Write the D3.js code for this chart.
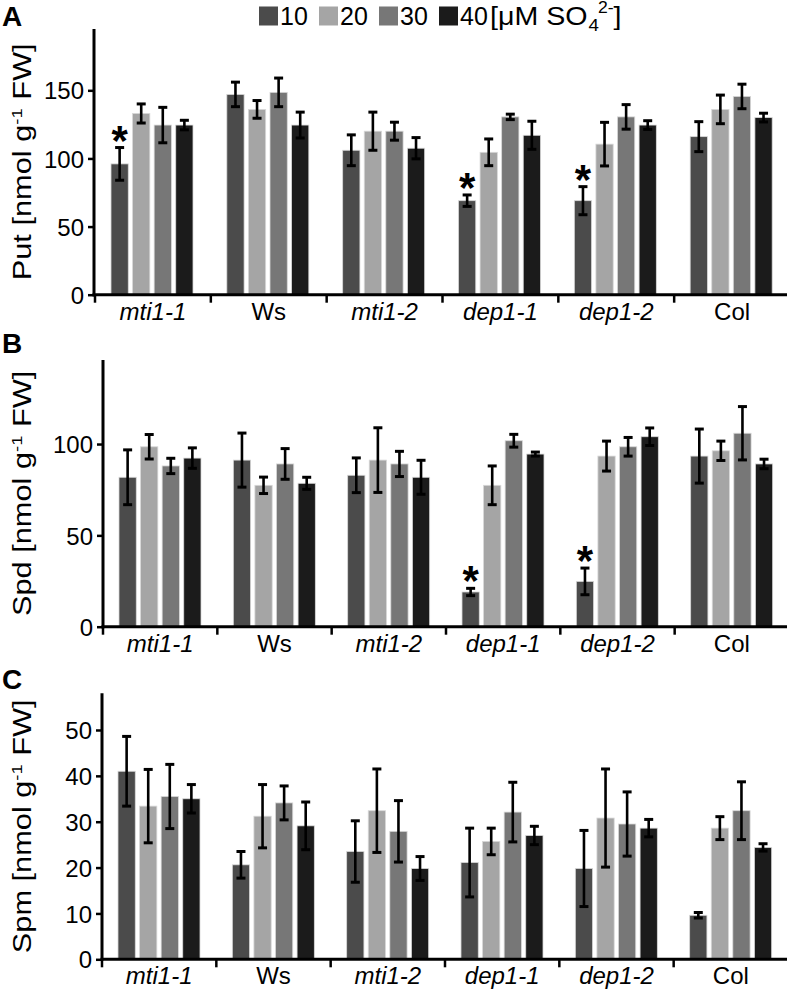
<!DOCTYPE html>
<html>
<head>
<meta charset="utf-8">
<script src="https://cdn.jsdelivr.net/npm/d3@7"></script>
<style>
  html, body { margin: 0; padding: 0; background: #fff; }
  svg { display: block; font-family: "Liberation Sans", Arial, sans-serif; }
</style>
</head>
<body>
<svg id="chart" width="789" height="994"></svg>
<script>
// ---------------- DATA ----------------
const genotypes = ["mti1-1", "Ws", "mti1-2", "dep1-1", "dep1-2", "Col"];
const italicGenotypes = ["mti1-1", "mti1-2", "dep1-1", "dep1-2"];
const concentrations = ["10", "20", "30", "40"];

// Put [nmol g-1 FW], rows = genotypes, cols = concentrations
const putMeans = [
  [96, 133, 124.5, 124.5],
  [147, 136, 148.5, 124.5],
  [106, 120, 120, 107.5],
  [69, 104.5, 130.5, 117],
  [69, 110.5, 130.5, 124.5],
  [116, 136, 145.5, 130]
];
const putErrors = [
  [12, 7, 13, 3.5],
  [9, 6.5, 10.5, 9.5],
  [11.3, 14, 6.6, 7.8],
  [4.2, 9.8, 2, 10.3],
  [10.3, 16, 9, 3.2],
  [11, 10.5, 9, 3.2]
];
const putStars = [["mti1-1", "10"], ["dep1-1", "10"], ["dep1-2", "10"]];
const putTicks = [0, 50, 100, 150];

// Spd
const spdMeans = [
  [81.8, 98.5, 88, 92.3],
  [91.2, 77.4, 89.1, 78.5],
  [82.9, 91.2, 89.1, 81.8],
  [19, 77.4, 101.8, 94.5],
  [24.8, 93.4, 98.5, 104],
  [93.4, 96.3, 105.9, 89.1]
];
const spdErrors = [
  [15, 6.7, 4.2, 5.6],
  [14.8, 4.5, 8.4, 3.3],
  [9.5, 17.7, 6.9, 9.3],
  [2, 10.6, 3.5, 1.1],
  [7.3, 8.2, 5.1, 4.8],
  [14.8, 5.3, 14.6, 2.6]
];
const spdStars = [["dep1-1", "10"], ["dep1-2", "10"]];
const spdTicks = [0, 50, 100];

// Spm
const spmMeans = [
  [41, 33.4, 35.5, 35],
  [20.6, 31.2, 34.1, 29.1],
  [23.5, 32.4, 27.9, 19.8],
  [21.1, 25.7, 32.1, 27],
  [19.8, 30.8, 29.5, 28.6],
  [9.6, 28.6, 32.4, 24.4]
];
const spmErrors = [
  [7.6, 8, 7, 3.1],
  [2.9, 6.9, 3.7, 5.2],
  [6.7, 9.1, 6.7, 2.6],
  [7.5, 2.9, 6.5, 2],
  [8.3, 10.7, 7, 1.9],
  [0.6, 2.5, 6.3, 0.8]
];
const spmStars = [];
const spmTicks = [0, 10, 20, 30, 40, 50];

// ---------------- STYLE / LAYOUT ----------------
const colors = { "10": "#4b4b4b", "20": "#a5a5a5", "30": "#777777", "40": "#1b1b1b" };
const svg = d3.select("#chart");

const panels = [
  { letter: "A", label: "Put", means: putMeans, errors: putErrors, stars: putStars, ticks: putTicks,
    yMax: 195, top: 29, zero: 294.7, axisX: 94, x0: 95, x1: 790, letterY: 26 },
  { letter: "B", label: "Spd", means: spdMeans, errors: spdErrors, stars: spdStars, ticks: spdTicks,
    yMax: 146, top: 360, zero: 626.7, axisX: 103, x0: 103, x1: 789, letterY: 353 },
  { letter: "C", label: "Spm", means: spmMeans, errors: spmErrors, stars: spmStars, ticks: spmTicks,
    yMax: 58, top: 693.3, zero: 959.3, axisX: 102, x0: 102, x1: 788, letterY: 689 }
];

panels.forEach(p => {
  const g = svg.append("g");
  const x = d3.scaleBand().domain(genotypes).range([p.x0, p.x1]).padding(0);
  const xi = d3.scaleBand().domain(concentrations).range([16, 98]).paddingInner(0.2);
  const y = d3.scaleLinear().domain([0, p.yMax]).range([p.zero, p.top]);

  const rows = [];
  genotypes.forEach((gn, i) => concentrations.forEach((c, j) => {
    rows.push({ g: gn, c: c, v: p.means[i][j], e: p.errors[i][j] });
  }));

  // bars
  g.selectAll("rect.bar").data(rows).join("rect")
    .attr("class", "bar")
    .attr("x", d => x(d.g) + xi(d.c))
    .attr("y", d => y(d.v))
    .attr("width", xi.bandwidth())
    .attr("height", d => y(0) - y(d.v))
    .attr("fill", d => colors[d.c])
    .attr("stroke", "#d8d8d8")
    .attr("stroke-width", 0.8);

  // error bars
  const cx = d => x(d.g) + xi(d.c) + xi.bandwidth() / 2;
  const eg = g.append("g").attr("stroke", "#000").attr("stroke-width", 2.6);
  eg.selectAll("line.v").data(rows).join("line")
    .attr("x1", cx).attr("x2", cx)
    .attr("y1", d => y(d.v + d.e)).attr("y2", d => y(d.v - d.e));
  eg.selectAll("line.t").data(rows).join("line")
    .attr("x1", d => cx(d) - 4.5).attr("x2", d => cx(d) + 4.5)
    .attr("y1", d => y(d.v + d.e)).attr("y2", d => y(d.v + d.e))
    .attr("stroke-width", 3);
  eg.selectAll("line.b").data(rows).join("line")
    .attr("x1", d => cx(d) - 4.5).attr("x2", d => cx(d) + 4.5)
    .attr("y1", d => y(d.v - d.e)).attr("y2", d => y(d.v - d.e))
    .attr("stroke-width", 3);

  // stars
  const starRows = p.stars.map(([gn, c]) => rows.find(r => r.g === gn && r.c === c));
  g.selectAll("text.star").data(starRows).join("text")
    .attr("x", cx)
    .attr("y", d => y(d.v + d.e) + 7)
    .attr("text-anchor", "middle")
    .attr("font-size", 42)
    .attr("font-weight", "bold")
    .text("*");

  // y axis
  const yAxis = d3.axisLeft(y).tickValues(p.ticks).tickSize(6).tickPadding(4).tickFormat(d3.format("d"));
  const ya = g.append("g").attr("transform", `translate(${p.axisX},0)`).call(yAxis);
  ya.select(".domain").remove();
  ya.selectAll(".tick line").attr("stroke", "#000").attr("stroke-width", 2.5);
  ya.selectAll(".tick text").attr("font-size", 24).attr("font-family", "Liberation Sans, Arial, sans-serif").attr("fill", "#000").attr("dy", "0.36em");
  g.append("line").attr("x1", p.axisX).attr("x2", p.axisX)
    .attr("y1", p.top).attr("y2", p.zero + 1.5)
    .attr("stroke", "#000").attr("stroke-width", 3);

  // x axis
  g.append("line").attr("x1", p.axisX - 1.5).attr("x2", Math.min(p.x1, 787))
    .attr("y1", p.zero).attr("y2", p.zero)
    .attr("stroke", "#000").attr("stroke-width", 3);
  const bounds = genotypes.map(gn => x(gn));
  g.selectAll("line.cat").data(bounds).join("line")
    .attr("x1", d => d).attr("x2", d => d)
    .attr("y1", p.zero).attr("y2", p.zero + 8)
    .attr("stroke", "#000").attr("stroke-width", 2.5);
  g.selectAll("text.cat").data(genotypes).join("text")
    .attr("x", d => x(d) + x.bandwidth() / 2)
    .attr("y", p.zero + 25)
    .attr("text-anchor", "middle")
    .attr("font-size", 24)
    .attr("font-style", d => italicGenotypes.includes(d) ? "italic" : "normal")
    .text(d => d);

  // y label
  const ly = (p.top + p.zero) / 2;
  const lab = g.append("text")
    .attr("transform", `translate(31,${ly}) rotate(-90) scale(1.23,1)`)
    .attr("text-anchor", "middle")
    .attr("font-size", 25);
  lab.append("tspan").text(p.label + " [nmol g");
  lab.append("tspan").attr("font-size", 15).attr("dy", -9).text("-1");
  lab.append("tspan").attr("dy", 9).text(" FW]");

  // panel letter
  g.append("text").attr("x", 2).attr("y", p.letterY)
    .attr("font-size", 28).attr("font-weight", "bold").text(p.letter);
});

// legend
const leg = svg.append("g");
const legX = d3.scaleBand().domain(concentrations).range([259, 499]);
concentrations.forEach(c => {
  leg.append("rect").attr("x", legX(c)).attr("y", 6.5).attr("width", 19).attr("height", 19)
    .attr("fill", colors[c]);
  leg.append("text").attr("x", legX(c) + 21).attr("y", 25).attr("font-size", 25).text(c);
});
const unit = leg.append("text")
  .attr("transform", "translate(490,25) scale(1.1,1)")
  .attr("font-size", 26);
unit.append("tspan").text("[μM SO");
unit.append("tspan").attr("font-size", 17).attr("dy", 6).attr("dx", 1).text("4");
unit.append("tspan").attr("font-size", 16).attr("dy", -18).attr("dx", -1).text("2-");
unit.append("tspan").attr("dy", 12).text("]");
</script>
</body>
</html>
